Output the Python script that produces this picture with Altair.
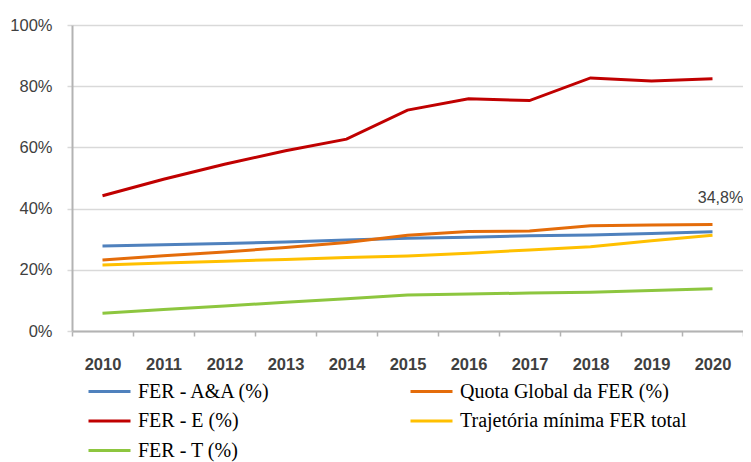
import altair as alt
import pandas as pd

years = ["2010", "2011", "2012", "2013", "2014", "2015", "2016", "2017", "2018", "2019", "2020"]
series_names = ["FER - A&A (%)", "Quota Global da FER (%)", "FER - E (%)",
                "Trajetória mínima FER total", "FER - T (%)"]
colors = ["#4F81BD", "#E46C0A", "#C00000", "#FFC000", "#8DC63F"]

fer_aa = [27.8, 28.2, 28.6, 29.1, 29.7, 30.3, 30.6, 31.1, 31.4, 31.9, 32.4]
quota = [23.2, 24.6, 25.8, 27.3, 28.9, 31.3, 32.5, 32.7, 34.4, 34.6, 34.8]
fer_e = [44.2, 49.6, 54.5, 58.9, 62.7, 72.2, 75.9, 75.3, 82.7, 81.7, 82.4]
trajetoria = [21.6, 22.2, 22.8, 23.4, 24.0, 24.5, 25.4, 26.5, 27.5, 29.5, 31.3]
fer_t = [5.8, 7.0, 8.2, 9.4, 10.5, 11.8, 12.1, 12.4, 12.7, 13.2, 13.8]

series_values = [fer_aa, quota, fer_e, trajetoria, fer_t]

rows = []
for name, vals in zip(series_names, series_values):
    for y, v in zip(years, vals):
        rows.append({"ano": y, "valor": v, "serie": name})
df = pd.DataFrame(rows)

label_df = pd.DataFrame([{"ano": "2020", "valor": quota[-1], "txt": "34,8%"}])

x_enc = alt.X(
    "ano:O",
    sort=years,
    bandPosition=0.5,
    scale=alt.Scale(type="band", paddingInner=0, paddingOuter=0),
    axis=alt.Axis(
        title=None, labelAngle=0, tickBand="extent", ticks=True, tickSize=5,
        tickColor="#b3b3b3", tickWidth=1.5, domainColor="#b3b3b3", domainWidth=2,
        labelFont="Liberation Sans", labelFontSize=16.5, labelFontWeight="bold",
        labelColor="#404040", labelPadding=20, grid=False,
    ),
)
y_enc = alt.Y(
    "valor:Q",
    scale=alt.Scale(domain=[0, 100]),
    axis=alt.Axis(
        title=None, values=[0, 20, 40, 60, 80, 100], labelExpr="datum.value + '%'",
        grid=True, gridColor="#d9d9d9", gridWidth=1.5, tickSize=5,
        tickColor="#d9d9d9", tickWidth=1.5, domainColor="#b3b3b3", domainWidth=2,
        labelFont="Liberation Sans", labelFontSize=16.5, labelColor="#404040",
        labelPadding=15,
    ),
)

lines = alt.Chart(df).mark_line(strokeWidth=3).encode(
    x=x_enc,
    y=y_enc,
    color=alt.Color(
        "serie:N",
        sort=series_names,
        scale=alt.Scale(domain=series_names, range=colors),
        legend=alt.Legend(
            title=None, orient="none", legendX=15, legendY=355.5, columns=2,
            direction="horizontal", clipHeight=22,
            symbolType="stroke", symbolSize=1764, symbolStrokeWidth=3,
            labelFont="Liberation Serif", labelFontSize=20, labelColor="#000000",
            labelOffset=6, columnPadding=138, rowPadding=7.5, padding=0,
            labelLimit=400,
        ),
    ),
    detail="serie:N",
)

label = alt.Chart(label_df).mark_text(
    font="Liberation Sans", fontSize=16, color="#404040", align="center",
    baseline="middle", dx=8, dy=-27,
).encode(
    x=alt.X("ano:O", sort=years, bandPosition=0.5),
    y=alt.Y("valor:Q"),
    text="txt:N",
)

chart = alt.layer(lines, label).properties(
    width=671,
    height=306,
    autosize=alt.AutoSizeParams(type="none"),
    padding={"left": 64, "top": 17, "right": 0, "bottom": 131},
).configure_view(stroke=None)

chart.save("out.html", embed_options={"renderer": "svg", "actions": False})
